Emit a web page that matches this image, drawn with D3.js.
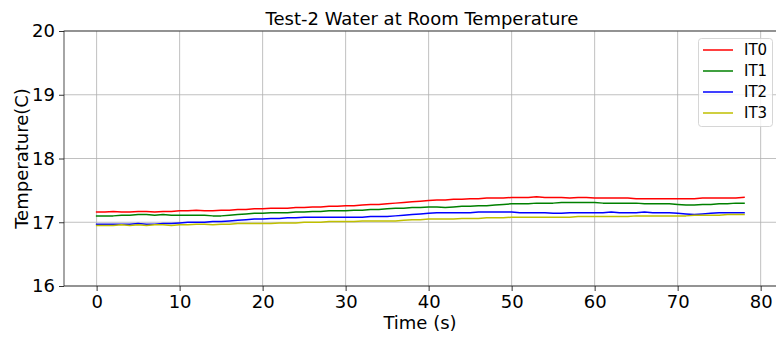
<!DOCTYPE html>
<html>
<head>
<meta charset="utf-8">
<script src="https://cdn.jsdelivr.net/npm/d3@7/dist/d3.min.js"></script>
<style>
  html, body { margin: 0; padding: 0; background: #fff; }
  svg { display: block; font-family: "DejaVu Sans", sans-serif; }
</style>
</head>
<body>
<svg id="chart" width="776" height="338"></svg>
<script>
const time = [0,1,2,3,4,5,6,7,8,9,10,11,12,13,14,15,16,17,18,19,20,21,22,23,24,25,26,27,28,29,30,31,32,33,34,35,36,37,38,39,40,41,42,43,44,45,46,47,48,49,50,51,52,53,54,55,56,57,58,59,60,61,62,63,64,65,66,67,68,69,70,71,72,73,74,75,76,77,78];

const IT0 = [17.16,17.16,17.17,17.16,17.16,17.17,17.17,17.16,17.17,17.17,
  17.18,17.18,17.19,17.18,17.18,17.19,17.19,17.20,17.20,17.21,
  17.21,17.22,17.22,17.22,17.23,17.23,17.24,17.24,17.25,17.25,
  17.26,17.26,17.27,17.28,17.28,17.29,17.30,17.31,17.32,17.33,
  17.34,17.35,17.35,17.36,17.36,17.37,17.37,17.38,17.38,17.38,
  17.39,17.39,17.39,17.40,17.39,17.39,17.39,17.38,17.39,17.39,
  17.38,17.38,17.38,17.38,17.38,17.37,17.37,17.37,17.37,17.37,
  17.37,17.37,17.37,17.38,17.38,17.38,17.38,17.38,17.39];

const IT1 = [17.10,17.10,17.10,17.11,17.11,17.12,17.12,17.11,17.12,17.11,
  17.11,17.11,17.11,17.11,17.10,17.10,17.11,17.12,17.13,17.14,
  17.14,17.15,17.15,17.15,17.16,17.16,17.17,17.17,17.18,17.18,
  17.18,17.19,17.19,17.20,17.20,17.21,17.22,17.22,17.23,17.23,
  17.24,17.24,17.23,17.24,17.25,17.25,17.26,17.26,17.27,17.28,
  17.29,17.29,17.29,17.30,17.30,17.30,17.31,17.31,17.31,17.31,
  17.31,17.30,17.30,17.30,17.30,17.30,17.29,17.29,17.29,17.29,
  17.28,17.27,17.27,17.28,17.28,17.29,17.29,17.30,17.30];

const IT2 = [16.97,16.97,16.97,16.97,16.97,16.98,16.97,16.97,16.98,16.98,
  16.99,17.00,17.00,17.00,17.01,17.01,17.02,17.03,17.04,17.05,
  17.05,17.06,17.06,17.07,17.07,17.08,17.08,17.08,17.08,17.08,
  17.08,17.08,17.08,17.09,17.09,17.09,17.10,17.11,17.12,17.13,
  17.14,17.15,17.15,17.15,17.15,17.15,17.16,17.16,17.16,17.16,
  17.16,17.15,17.15,17.15,17.15,17.14,17.14,17.15,17.15,17.15,
  17.15,17.15,17.16,17.15,17.15,17.15,17.16,17.15,17.15,17.15,
  17.14,17.13,17.12,17.13,17.14,17.15,17.15,17.15,17.15];

const IT3 = [16.95,16.95,16.95,16.96,16.95,16.96,16.95,16.96,16.96,16.95,
  16.96,16.96,16.97,16.97,16.96,16.97,16.97,16.98,16.98,16.98,
  16.98,16.98,16.99,16.99,16.99,17.00,17.00,17.00,17.01,17.01,
  17.01,17.01,17.02,17.02,17.02,17.02,17.02,17.03,17.04,17.04,
  17.05,17.05,17.05,17.05,17.06,17.06,17.06,17.07,17.07,17.07,
  17.08,17.08,17.08,17.08,17.08,17.08,17.08,17.08,17.09,17.09,
  17.09,17.09,17.09,17.09,17.09,17.10,17.10,17.10,17.10,17.10,
  17.10,17.10,17.11,17.11,17.11,17.11,17.12,17.12,17.12];

const seriesNames = ["IT0", "IT1", "IT2", "IT3"];
const seriesColors = ["#ff0000", "#008000", "#0000ff", "#bfbf00"];
const xTicks = [0, 10, 20, 30, 40, 50, 60, 70, 80];
const yTicks = [16, 17, 18, 19, 20];
const titleText = "Test-2 Water at Room Temperature";
const xLabel = "Time (s)";
const yLabel = "Temperature(C)";

const series = [IT0, IT1, IT2, IT3];

const svg = d3.select("#chart");
const L = 64, T = 31, B = 286, R = 780;

const x = d3.scaleLinear().domain([-3.93, 82.33]).range([L, R]);
const y = d3.scaleLinear().domain([16, 20]).range([B, T]);

// grid
const grid = svg.append("g");
grid.selectAll("line.vx").data(xTicks).enter().append("line")
  .attr("x1", d => x(d)).attr("x2", d => x(d)).attr("y1", T).attr("y2", B)
  .attr("stroke", "#b0b0b0").attr("stroke-width", 0.8);
grid.selectAll("line.hy").data(yTicks).enter().append("line")
  .attr("x1", L).attr("x2", R).attr("y1", d => y(d)).attr("y2", d => y(d))
  .attr("stroke", "#b0b0b0").attr("stroke-width", 0.8);

// lines
svg.append("clipPath").attr("id", "clip").append("rect")
  .attr("x", L).attr("y", T).attr("width", R - L).attr("height", B - T);
const lineGen = d3.line().x((d, i) => x(time[i])).y(d => y(d));
const lines = svg.append("g").attr("clip-path", "url(#clip)");
series.forEach((s, k) => {
  lines.append("path").datum(s)
    .attr("d", lineGen)
    .attr("fill", "none")
    .attr("stroke", seriesColors[k])
    .attr("stroke-width", 1.5)
    .attr("stroke-linejoin", "round")
    .attr("stroke-linecap", "square");
});

// axes
const xAxis = d3.axisBottom(x).tickValues(xTicks).tickSize(5).tickPadding(4).tickFormat(d3.format("d"));
const yAxis = d3.axisLeft(y).tickValues(yTicks).tickSize(5).tickPadding(4).tickFormat(d3.format("d"));
const gx = svg.append("g").attr("transform", `translate(0,${B})`).call(xAxis);
const gy = svg.append("g").attr("transform", `translate(${L},0)`).call(yAxis);
[gx, gy].forEach(g => {
  g.select(".domain").remove();
  g.selectAll(".tick line").attr("stroke", "#000").attr("stroke-width", 0.8);
  g.selectAll(".tick text").attr("fill", "#000").style("font-size", "18px")
    .style("font-family", "'DejaVu Sans', sans-serif");
});

// spines
svg.append("rect").attr("x", L).attr("y", T).attr("width", R - L).attr("height", B - T)
  .attr("fill", "none").attr("stroke", "#222").attr("stroke-width", 0.8);

// title and labels
svg.append("text").attr("x", (L + R) / 2).attr("y", T - 6).attr("text-anchor", "middle")
  .style("font-size", "18px").attr("fill", "#000").text(titleText);
svg.append("text").attr("x", (L + R) / 2 - 2).attr("y", 329).attr("text-anchor", "middle")
  .style("font-size", "18px").attr("fill", "#000").text(xLabel);
svg.append("text").attr("transform", `translate(28,${(T + B) / 2}) rotate(-90)`)
  .attr("text-anchor", "middle").style("font-size", "18px").attr("fill", "#000").text(yLabel);

// legend
const lg = svg.append("g");
lg.append("rect").attr("x", 698.5).attr("y", 38.5).attr("width", 74).attr("height", 88)
  .attr("rx", 3).attr("fill", "#fff").attr("fill-opacity", 0.8)
  .attr("stroke", "#cccccc").attr("stroke-width", 0.8);
seriesNames.forEach((n, k) => {
  const yy = 50 + k * 21;
  lg.append("line").attr("x1", 703).attr("x2", 733).attr("y1", yy).attr("y2", yy)
    .attr("stroke", seriesColors[k]).attr("stroke-width", 1.5);
  lg.append("text").attr("x", 744).attr("y", yy + 5)
    .style("font-size", "15px").attr("fill", "#000").text(n);
});
</script>
</body>
</html>
